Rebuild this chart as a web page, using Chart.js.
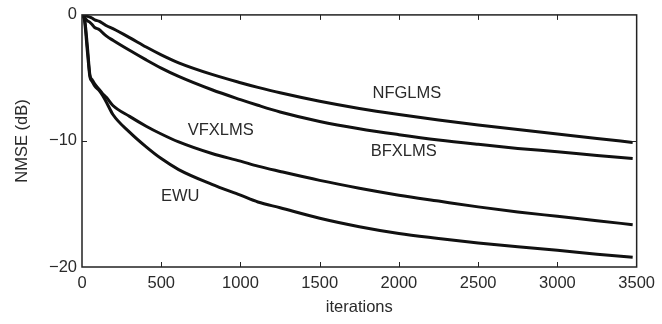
<!DOCTYPE html>
<html>
<head>
<meta charset="utf-8">
<script src="https://cdn.jsdelivr.net/npm/chart.js@4.4.1/dist/chart.umd.min.js"></script>
<style>
  html, body { margin: 0; padding: 0; background: #fff; }
  #wrap { width: 662px; height: 324px; }
</style>
</head>
<body>
<div id="wrap"><canvas id="myChart"></canvas></div>
<script>
const iterations = [0, 15, 35, 50, 65, 80, 110, 130, 155, 195, 300, 405, 500, 610, 820, 1000, 1110, 1250, 1500, 1750, 2000, 2250, 2500, 2750, 3000, 3250, 3475];

// NMSE values in dB for each algorithm
const nfglms = [0, -0.04, -0.12, -0.18, -0.27, -0.39, -0.51, -0.66, -0.86, -1.09, -1.8, -2.55, -3.17, -3.8, -4.72, -5.38, -5.75, -6.18, -6.85, -7.42, -7.9, -8.33, -8.73, -9.1, -9.45, -9.8, -10.12];
const bfxlms = [0, -0.23, -0.47, -0.59, -0.78, -1.0, -1.17, -1.41, -1.68, -2.01, -2.81, -3.57, -4.22, -4.88, -5.94, -6.72, -7.17, -7.7, -8.45, -9.03, -9.5, -9.92, -10.27, -10.59, -10.86, -11.15, -11.4];
const vfxlms = [0, -0.23, -2.66, -4.77, -5.16, -5.47, -5.94, -6.25, -6.56, -7.19, -8.05, -8.83, -9.45, -10.08, -11.0, -11.6, -12.0, -12.42, -13.13, -13.75, -14.3, -14.77, -15.23, -15.63, -15.98, -16.33, -16.64];
const ewu = [0, -0.39, -3.05, -4.92, -5.3, -5.63, -6.02, -6.4, -6.95, -7.9, -9.3, -10.47, -11.4, -12.27, -13.44, -14.3, -14.84, -15.3, -16.13, -16.8, -17.34, -17.73, -18.09, -18.4, -18.67, -18.98, -19.22];

// where the curve names are written (data coordinates)
const labelNames = ['NFGLMS', 'BFXLMS', 'VFXLMS', 'EWU'];
const labelIter = [2050, 2030, 875, 620];
const labelDb = [-6.25, -10.86, -9.2, -14.4];

const xTicks = [0, 500, 1000, 1500, 2000, 2500, 3000, 3500];
const yTicks = [-20, -10, 0];

const fontFamily = "'Liberation Sans', Arial, Helvetica, sans-serif";
const textColor = '#2a2a2a';

function toPoints(ys) {
  return ys.map((y, i) => ({ x: iterations[i], y: y }));
}

function makeSet(name, ys) {
  return {
    label: name,
    data: toPoints(ys),
    borderColor: '#111',
    borderWidth: 3,
    pointRadius: 0,
    fill: false,
    cubicInterpolationMode: 'monotone'
  };
}

// box around the plot, inward ticks on all four sides, curve names
const frame = {
  id: 'frame',
  afterDraw(chart) {
    const c = chart.ctx;
    const a = chart.chartArea;
    const xs = chart.scales.x;
    const ys = chart.scales.y;
    c.save();
    c.strokeStyle = '#222';
    c.lineWidth = 1.5;
    c.strokeRect(a.left, a.top, a.right - a.left, a.bottom - a.top);
    c.lineWidth = 1;
    const len = 5;
    c.beginPath();
    xTicks.forEach(v => {
      if (v === xs.min || v === xs.max) return;
      const px = Math.round(xs.getPixelForValue(v)) + 0.5;
      c.moveTo(px, a.bottom); c.lineTo(px, a.bottom - len);
      c.moveTo(px, a.top); c.lineTo(px, a.top + len);
    });
    yTicks.forEach(v => {
      if (v === ys.min || v === ys.max) return;
      const py = Math.round(ys.getPixelForValue(v)) + 0.5;
      c.moveTo(a.left, py); c.lineTo(a.left + len, py);
      c.moveTo(a.right, py); c.lineTo(a.right - len, py);
    });
    c.stroke();

    c.fillStyle = textColor;
    c.font = '16.5px ' + fontFamily;
    c.textAlign = 'center';
    c.textBaseline = 'middle';
    labelNames.forEach((t, i) => {
      c.fillText(t, xs.getPixelForValue(labelIter[i]), ys.getPixelForValue(labelDb[i]));
    });
    c.restore();
  }
};

new Chart(document.getElementById('myChart'), {
  type: 'line',
  data: {
    datasets: [
      makeSet('NFGLMS', nfglms),
      makeSet('BFXLMS', bfxlms),
      makeSet('VFXLMS', vfxlms),
      makeSet('EWU', ewu)
    ]
  },
  plugins: [frame],
  options: {
    responsive: true,
    maintainAspectRatio: false,
    animation: false,
    layout: { padding: { left: 0, right: 20, top: 11, bottom: 0 } },
    plugins: {
      legend: { display: false },
      tooltip: { enabled: false }
    },
    scales: {
      x: {
        type: 'linear',
        min: 0,
        max: 3500,
        afterBuildTicks: s => { s.ticks = xTicks.map(v => ({ value: v })); },
        afterFit: s => { s.height = 57; },
        grid: { display: false, drawTicks: false },
        border: { display: false },
        ticks: {
          color: textColor,
          padding: 7,
          maxRotation: 0,
          font: { family: fontFamily, size: 16.5 },
          callback: v => String(v)
        },
        title: {
          display: true,
          text: 'iterations',
          color: textColor,
          padding: { top: 0, bottom: 7 },
          font: { family: fontFamily, size: 16.5 }
        }
      },
      y: {
        type: 'linear',
        min: -20,
        max: 0,
        afterBuildTicks: s => { s.ticks = yTicks.map(v => ({ value: v })); },
        afterFit: s => { s.width = 82; },
        grid: { display: false, drawTicks: false },
        border: { display: false },
        ticks: {
          color: textColor,
          padding: 5,
          font: { family: fontFamily, size: 16.5 },
          callback: v => (v < 0 ? '\u2212' + Math.abs(v) : String(v))
        },
        title: {
          display: true,
          text: 'NMSE (dB)',
          color: textColor,
          padding: { top: 13, bottom: 0 },
          font: { family: fontFamily, size: 16.5 }
        }
      }
    }
  }
});
</script>
</body>
</html>
